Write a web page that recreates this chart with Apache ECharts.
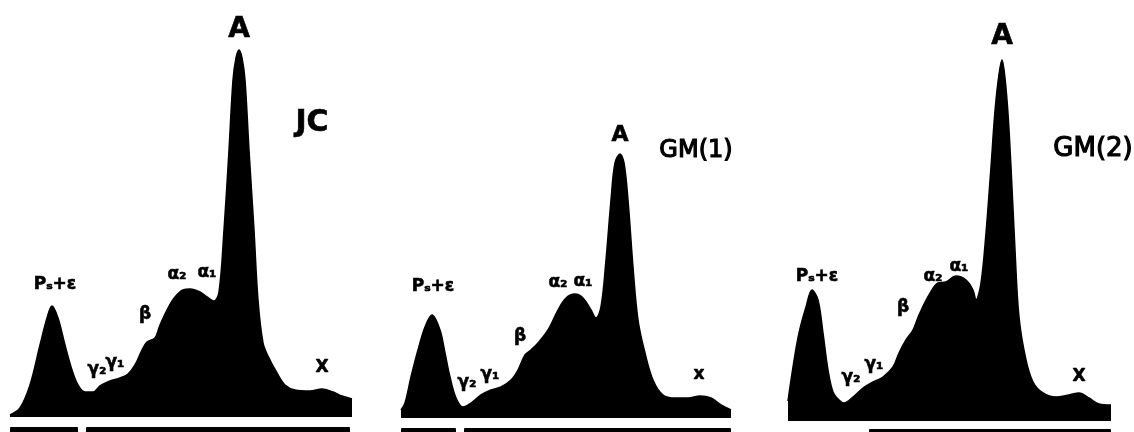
<!DOCTYPE html>
<html>
<head>
<meta charset="utf-8">
<script src="https://cdn.jsdelivr.net/npm/echarts@6/dist/echarts.min.js"></script>
<style>
html,body{margin:0;padding:0;background:#fff;}
#chart{width:1134px;height:432px;}
</style>
</head>
<body>
<div id="chart"></div>
<script>
// Densitometer profiles (x = migration distance, y = absorbance, arbitrary units)
const jcProfile = [[0,2],[10,9],[20,32],[30,72],[37,99],[42,111],[48,99],[55,72],[62,47],[68,32],[75,25],[83,25],[90,31],[100,36],[110,39],[118,43],[125,52],[132,67],[137,75],[145,79],[150,92],[158,109],[165,120],[173,127],[180,128],[190,125],[197,120],[204,116],[209,125],[214,187],[219,267],[223,337],[226,359],[229,367],[232,359],[235,337],[239,267],[244,187],[248,117],[253,74],[258,61],[267,44],[275,32],[285,27],[300,26],[312,28],[323,25],[332,21],[342,18]];
const gm1Profile = [[0,8],[4,15],[10,41],[17,68],[24,91],[31,103],[39,88],[44,65],[49,41],[55,20],[62,11],[70,15],[80,23],[90,28],[100,31],[110,38],[117,48],[124,63],[130,68],[137,75],[147,88],[157,108],[165,120],[174,124],[182,120],[190,108],[195,100],[200,111],[205,158],[210,218],[214,255],[219,264],[223,255],[227,218],[232,151],[237,98],[244,65],[252,38],[262,23],[274,20],[287,20],[299,22],[310,20],[320,13],[330,8]];
const gm2Profile = [[0,20],[5,54],[11,88],[18,114],[24,131],[30,121],[35,88],[40,51],[45,29],[51,21],[56,18],[65,24],[75,33],[85,39],[95,44],[105,54],[111,68],[118,81],[125,91],[131,106],[141,126],[150,138],[158,139],[168,145],[178,141],[185,131],[188,121],[193,138],[198,188],[203,254],[208,321],[214,361],[219,321],[223,254],[227,171],[231,104],[238,61],[245,39],[255,28],[268,24],[281,26],[291,28],[301,23],[311,17],[323,16]];

// Sample application bars under each strip [start, end]
const jcBars = [[0,68],[76,340]];
const gm1Bars = [[0,55],[63,330]];
const gm2Bars = [[81,323]];

// Annotations [x, y, text]
const jcLabels = [[229,387,'A'],[302,294,'JC'],[45,132,'Pₛ+ε'],[87,47,'γ₂'],[105,54,'γ₁'],[135,102,'β'],[167,142,'α₂'],[197,144,'α₁'],[312,49,'X']];
const gm1Labels = [[219,283,'A'],[295,267,'GM(1)'],[32,131,'Pₛ+ε'],[66,35,'γ₂'],[89,43,'γ₁'],[119,81,'β'],[157,135,'α₂'],[182,136,'α₁'],[298,43,'x']];
const gm2Labels = [[214,384,'A'],[305,272,'GM(2)'],[29,144,'Pₛ+ε'],[63,43,'γ₂'],[86,56,'γ₁'],[115,113,'β'],[145,144,'α₂'],[171,154,'α₁'],[291,44,'X']];

const panels = [
  {profile: jcProfile, bars: jcBars, labels: jcLabels, left: 10, width: 342, top: 17, min: -15, barTop: -10, aSize: 28, nameSize: 24},
  {profile: gm1Profile, bars: gm1Bars, labels: gm1Labels, left: 401, width: 330, top: 18, min: -14, barTop: -10, aSize: 22, nameSize: 24},
  {profile: gm2Profile, bars: gm2Bars, labels: gm2Labels, left: 788, width: 323, top: 21, min: -11, barTop: -8, aSize: 28, nameSize: 26}
];

const grid = [], xAxis = [], yAxis = [], series = [];
panels.forEach((p, i) => {
  grid.push({left: p.left, width: p.width, top: p.top, height: 400 - p.min});
  xAxis.push({type: 'value', gridIndex: i, min: 0, max: p.width, show: false});
  yAxis.push({type: 'value', gridIndex: i, min: p.min, max: 400, show: false});
  series.push({
    type: 'line', xAxisIndex: i, yAxisIndex: i, data: p.profile,
    smooth: 0.35, symbol: 'none', silent: true,
    lineStyle: {color: '#000', width: 1.5},
    areaStyle: {color: '#000', opacity: 1, origin: 0}
  });
  series.push({
    type: 'custom', xAxisIndex: i, yAxisIndex: i, silent: true,
    data: p.bars,
    renderItem: (params, api) => {
      const a = api.coord([api.value(0), p.barTop]);
      const b = api.coord([api.value(1), p.min]);
      return {type: 'rect', shape: {x: a[0], y: a[1], width: b[0] - a[0], height: b[1] - a[1] + 2, r: 1}, style: {fill: '#000'}};
    }
  });
  series.push({
    type: 'scatter', xAxisIndex: i, yAxisIndex: i, silent: true, clip: false,
    symbolSize: 0,
    itemStyle: {color: '#000', opacity: 1},
    label: {show: true, color: '#000', opacity: 1},
    data: p.labels.map(l => {
      const t = l[2];
      let size = 17, weight = 'bold', border = 0.6;
      if (t === 'A') size = p.aSize;
      else if (t === 'JC') size = 30;
      else if (t.startsWith('GM')) { size = p.nameSize; weight = 'normal'; border = 1.2; }
      return {
        value: [l[0], l[1]], name: t,
        label: {show: true, formatter: '{b}', position: [0, 0], align: 'center', verticalAlign: 'middle',
          color: '#000', opacity: 1, textBorderWidth: border, textBorderColor: '#000',
          fontFamily: 'DejaVu Sans', fontWeight: weight, fontSize: size}
      };
    })
  });
});

const chart = echarts.init(document.getElementById('chart'), null, {renderer: 'canvas'});
chart.setOption({animation: false, backgroundColor: '#fff', textStyle: {color: '#000'}, grid, xAxis, yAxis, series});
</script>
</body>
</html>
